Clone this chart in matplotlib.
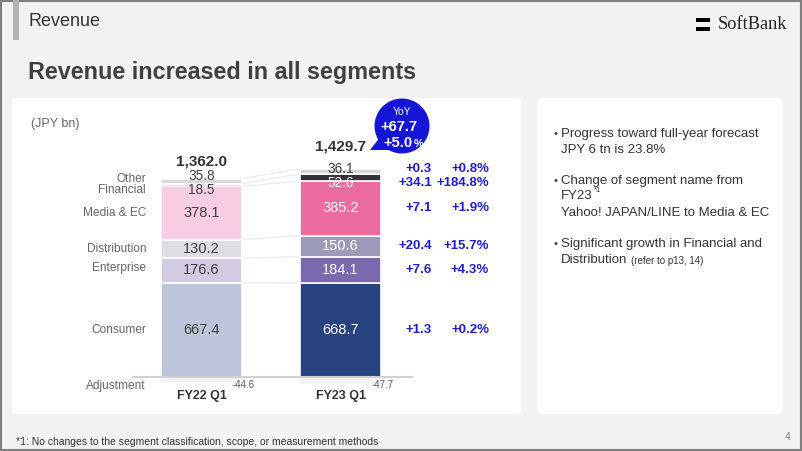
import matplotlib
matplotlib.use("Agg")
import matplotlib.pyplot as plt
from matplotlib.patches import FancyBboxPatch, Rectangle, Circle, Polygon
import numpy as np

plt.rcParams['font.family'] = ['Liberation Sans', 'DejaVu Sans']

# data
segments = ['Consumer', 'Enterprise', 'Distribution', 'Media & EC', 'Financial', 'Other']
periods = ['FY22 Q1', 'FY23 Q1']
fy22 = [667.4, 176.6, 130.2, 378.1, 18.5, 35.8]
fy23 = [668.7, 184.1, 150.6, 385.2, 52.6, 36.1]
adjustment = [-44.6, -47.7]
totals = ['1,362.0', '1,429.7']
yoy_abs = ['+1.3', '+7.6', '+20.4', '+7.1', '+34.1', '+0.3']
yoy_pct = ['+0.2%', '+4.3%', '+15.7%', '+1.9%', '+184.8%', '+0.8%']
yoy_total = ['+67.7', '+5.0']
bullets = [
    ['Progress toward full-year forecast', 'JPY 6 tn is 23.8%'],
    ['Change of segment name from', 'FY23', 'Yahoo! JAPAN/LINE to Media & EC'],
    ['Significant growth in Financial and', 'Distribution'],
]

colors22 = ['#bcc5da', '#d3cbe3', '#dddee4', '#f9cde1', '#595959', '#d9d9d9']
colors23 = ['#27427e', '#7b69ae', '#9b9bb8', '#ec6ba1', '#333333', '#d4d4d4']
blue = '#1f1fc4'
W, H = 802, 451

fig = plt.figure(figsize=(W / 100, H / 100), dpi=100)
fig.patch.set_facecolor('#f2f2f2')

# background axes in pixel coordinates
bg = fig.add_axes([0, 0, 1, 1])
bg.set_xlim(0, W)
bg.set_ylim(H, 0)
bg.axis('off')
bg.add_patch(Rectangle((0.75, 0.75), W - 1.5, H - 1.5, fill=False, ec='#7f7f7f', lw=1.5))
bg.add_patch(Rectangle((13, 0), 6, 40, color='#b3b3b3', lw=0))
bg.text(29, 21, 'Revenue', fontsize=13, color='#333333', va='center')
bg.text(28, 72, 'Revenue increased in all segments', fontsize=16.8, fontweight='bold',
        color='#404040', va='center')
# logo
bg.add_patch(Rectangle((696, 18), 14, 4, color='black', lw=0))
bg.add_patch(Rectangle((696, 26.5), 14, 4, color='black', lw=0))
bg.text(718, 24.5, 'SoftBank', fontsize=13.2, family='Liberation Serif', color='#222222',
        va='center')

bg.add_patch(FancyBboxPatch((12, 98), 510, 316, boxstyle='round,pad=0,rounding_size=6',
                            fc='white', ec='none'))
bg.add_patch(FancyBboxPatch((537, 98), 246, 316, boxstyle='round,pad=0,rounding_size=6',
                            fc='white', ec='none'))
bg.text(31, 124, '(JPY bn)', fontsize=9, color='#666666', va='center')

# YoY bubble
bg.add_patch(Polygon([(381, 136), (392, 150), (370, 150)], color='#1515d5', lw=0))
bg.add_patch(Circle((402, 126), 27.5, color='#1515d5', lw=0))
bg.text(402, 112, 'YoY', fontsize=7.5, color='white', ha='center', va='center')
bg.text(399, 127, yoy_total[0], fontsize=10.5, color='white', ha='center', va='center',
        fontweight='bold')
bg.text(413, 143, yoy_total[1], fontsize=10.5, color='white', ha='right', va='center',
        fontweight='bold')
bg.text(413.5, 144, '%', fontsize=8, color='white', ha='left', va='center',
        fontweight='bold')

# right panel text
ys = [[134, 150], [181, 196, 213], [244, 260]]
line_txt = {}
for lines, yy in zip(bullets, ys):
    bg.text(555, yy[0], '•', fontsize=8, color='#404040', va='center', ha='center')
    for line, y in zip(lines, yy):
        line_txt[line] = bg.text(561, y, line, fontsize=9.5, color='#333333', va='center')

fig.canvas.draw()
r = fig.canvas.get_renderer()
inv = bg.transData.inverted()


def right_edge(t):
    bb = t.get_window_extent(r)
    return inv.transform((bb.x1, bb.y0))[0]


bg.text(right_edge(line_txt['FY23']) + 1, 191, '*1', fontsize=5.5, color='#333333', va='center')
bg.text(right_edge(line_txt['Distribution']) + 4, 261, '(refer to p13, 14)', fontsize=7,
        color='#333333', va='center')

bg.text(16, 442, '*1: No changes to the segment classification, scope, or measurement methods',
        fontsize=7.5, color='#333333', va='center')
bg.text(785, 437, '4', fontsize=7.5, color='#808080', va='center')

# chart axes: mapped so that bars land in the same place as the slide
px_left, px_right, px_top, px_bot = 12, 522, 98, 414
x0_px, dx_px = 201.5, 139.0
y0_px, scale = 377.0, 0.141
ax = fig.add_axes([px_left / W, 1 - px_bot / H, (px_right - px_left) / W, (px_bot - px_top) / H])
ax.set_xlim((px_left - x0_px) / dx_px, (px_right - x0_px) / dx_px)
ax.set_ylim(-(px_bot - y0_px) / scale, (y0_px - px_top) / scale)
ax.axis('off')
ax.patch.set_alpha(0)

width = 81 / dx_px
x = np.arange(2)
data = [fy22, fy23]
cols = [colors22, colors23]
pt = 0.72  # points per pixel

for i in range(2):
    bottom = 0
    for j, v in enumerate(data[i]):
        ax.bar(x[i], v, width, bottom=bottom, color=cols[i][j], edgecolor='white', linewidth=1.2)
        bottom += v
    ax.bar(x[i], adjustment[i], width, bottom=0, color='#f4f4f4', edgecolor='none')

# connector lines
c22 = np.cumsum(fy22)
c23 = np.cumsum(fy23)
for a, b in zip(np.r_[0, c22], np.r_[0, c23]):
    ax.plot([x[0] + width / 2, x[1] - width / 2], [a, b], color='#ececec', lw=1, zorder=0)

ax.plot([(133 - x0_px) / dx_px, (412 - x0_px) / dx_px], [0, 0], color='#d0d0d0', lw=1.5)

# value labels
mids22 = c22 - np.array(fy22) / 2
mids23 = c23 - np.array(fy23) / 2
off22 = [0, 0, 0, 0, 5, -5.5]
off23 = [0, 0, 0, 0, 5.5, -2]
lab_off = [0, -2, 0, 0, 5, -2]
for j, seg in enumerate(segments):
    fs = 9.8 if seg in ('Financial', 'Other') else 10.5
    ax.annotate(f'{fy22[j]:.1f}', (x[0], mids22[j]), xytext=(0, -off22[j] * pt),
                textcoords='offset points', ha='center', va='center', fontsize=fs,
                color='#404040')
    tc = '#404040' if seg == 'Other' else 'white'
    ax.annotate(f'{fy23[j]:.1f}', (x[1], mids23[j]), xytext=(0, -off23[j] * pt),
                textcoords='offset points', ha='center', va='center', fontsize=fs, color=tc)
    ax.annotate(seg, ((146 - x0_px) / dx_px, mids22[j]), xytext=(0, -lab_off[j] * pt),
                textcoords='offset points', ha='right', va='center', fontsize=8.6,
                color='#666666')
    ax.annotate(yoy_abs[j], ((432 - x0_px) / dx_px, mids23[j]), xytext=(0, -off23[j] * pt),
                textcoords='offset points', ha='right', va='center', fontsize=9.5,
                color=blue, fontweight='bold')
    ax.annotate(yoy_pct[j], ((489 - x0_px) / dx_px, mids23[j]), xytext=(0, -off23[j] * pt),
                textcoords='offset points', ha='right', va='center', fontsize=9.5,
                color=blue, fontweight='bold')

ax.annotate('Adjustment', ((146 - x0_px) / dx_px, 0), xytext=(0, -9 * pt),
            textcoords='offset points', ha='right', va='center', fontsize=8.6, color='#666666')

tot_off = [17, 22]
for i in range(2):
    top = sum(data[i])
    ax.annotate(totals[i], (x[i], top), xytext=(0, tot_off[i] * pt), textcoords='offset points',
                ha='center', va='center', fontsize=11, fontweight='bold', color='#333333')
    ax.annotate(periods[i], (x[i], 0), xytext=(0, -19 * pt), textcoords='offset points',
                ha='center', va='center', fontsize=9, fontweight='bold', color='#333333')
    ax.annotate(f'{adjustment[i]:.1f}', (x[i] + width / 2, 0), xytext=(-9 * pt, -8 * pt),
                textcoords='offset points', ha='left', va='center', fontsize=7, color='#595959')

fig.savefig('out.png', dpi=100, facecolor=fig.get_facecolor())
